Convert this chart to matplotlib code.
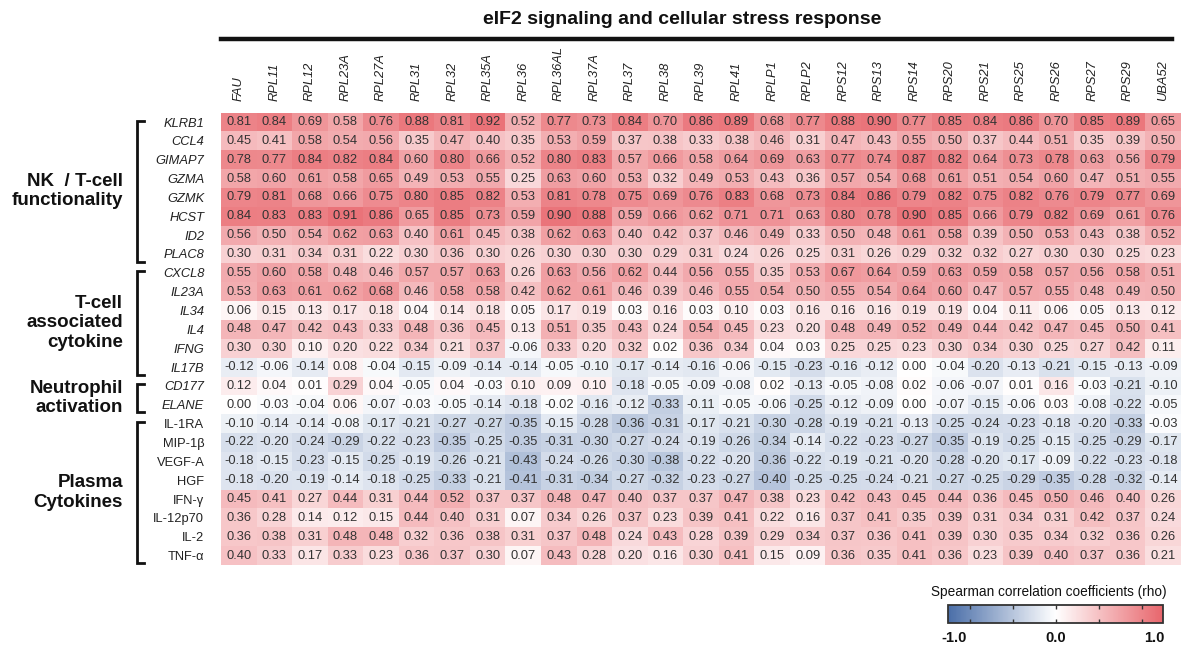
import numpy as np
import matplotlib
matplotlib.use("Agg")
import matplotlib.pyplot as plt
from matplotlib import font_manager
from matplotlib.colors import LinearSegmentedColormap
from matplotlib.transforms import blended_transform_factory
from matplotlib.lines import Line2D
import matplotlib.cm as cm
import matplotlib.colors as mcolors

# ---------------- data ----------------
columns = ["FAU", "RPL11", "RPL12", "RPL23A", "RPL27A", "RPL31", "RPL32", "RPL35A", "RPL36",
           "RPL36AL", "RPL37A", "RPL37", "RPL38", "RPL39", "RPL41", "RPLP1", "RPLP2", "RPS12",
           "RPS13", "RPS14", "RPS20", "RPS21", "RPS25", "RPS26", "RPS27", "RPS29", "UBA52"]

rows = ["KLRB1", "CCL4", "GIMAP7", "GZMA", "GZMK", "HCST", "ID2", "PLAC8",
        "CXCL8", "IL23A", "IL34", "IL4", "IFNG", "IL17B",
        "CD177", "ELANE",
        "IL-1RA", "MIP-1β", "VEGF-A", "HGF", "IFN-γ", "IL-12p70", "IL-2", "TNF-α"]
italic_rows = rows[:16]

groups = [("NK  / T-cell\nfunctionality", 0, 7),
          ("T-cell\nassociated\ncytokine", 8, 13),
          ("Neutrophil\nactivation", 14, 15),
          ("Plasma\nCytokines", 16, 23)]

KLRB1 = [0.81, 0.84, 0.69, 0.58, 0.76, 0.88, 0.81, 0.92, 0.52, 0.77, 0.73, 0.84, 0.70, 0.86, 0.89, 0.68, 0.77, 0.88, 0.90, 0.77, 0.85, 0.84, 0.86, 0.70, 0.85, 0.89, 0.65]
CCL4 = [0.45, 0.41, 0.58, 0.54, 0.56, 0.35, 0.47, 0.40, 0.35, 0.53, 0.59, 0.37, 0.38, 0.33, 0.38, 0.46, 0.31, 0.47, 0.43, 0.55, 0.50, 0.37, 0.44, 0.51, 0.35, 0.39, 0.50]
GIMAP7 = [0.78, 0.77, 0.84, 0.82, 0.84, 0.60, 0.80, 0.66, 0.52, 0.80, 0.83, 0.57, 0.66, 0.58, 0.64, 0.69, 0.63, 0.77, 0.74, 0.87, 0.82, 0.64, 0.73, 0.78, 0.63, 0.56, 0.79]
GZMA = [0.58, 0.60, 0.61, 0.58, 0.65, 0.49, 0.53, 0.55, 0.25, 0.63, 0.60, 0.53, 0.32, 0.49, 0.53, 0.43, 0.36, 0.57, 0.54, 0.68, 0.61, 0.51, 0.54, 0.60, 0.47, 0.51, 0.55]
GZMK = [0.79, 0.81, 0.68, 0.66, 0.75, 0.80, 0.85, 0.82, 0.53, 0.81, 0.78, 0.75, 0.69, 0.76, 0.83, 0.68, 0.73, 0.84, 0.86, 0.79, 0.82, 0.75, 0.82, 0.76, 0.79, 0.77, 0.69]
HCST = [0.84, 0.83, 0.83, 0.91, 0.86, 0.65, 0.85, 0.73, 0.59, 0.90, 0.88, 0.59, 0.66, 0.62, 0.71, 0.71, 0.63, 0.80, 0.78, 0.90, 0.85, 0.66, 0.79, 0.82, 0.69, 0.61, 0.76]
ID2 = [0.56, 0.50, 0.54, 0.62, 0.63, 0.40, 0.61, 0.45, 0.38, 0.62, 0.63, 0.40, 0.42, 0.37, 0.46, 0.49, 0.33, 0.50, 0.48, 0.61, 0.58, 0.39, 0.50, 0.53, 0.43, 0.38, 0.52]
PLAC8 = [0.30, 0.31, 0.34, 0.31, 0.22, 0.30, 0.36, 0.30, 0.26, 0.30, 0.30, 0.30, 0.29, 0.31, 0.24, 0.26, 0.25, 0.31, 0.26, 0.29, 0.32, 0.32, 0.27, 0.30, 0.30, 0.25, 0.23]
CXCL8 = [0.55, 0.60, 0.58, 0.48, 0.46, 0.57, 0.57, 0.63, 0.26, 0.63, 0.56, 0.62, 0.44, 0.56, 0.55, 0.35, 0.53, 0.67, 0.64, 0.59, 0.63, 0.59, 0.58, 0.57, 0.56, 0.58, 0.51]
IL23A = [0.53, 0.63, 0.61, 0.62, 0.68, 0.46, 0.58, 0.58, 0.42, 0.62, 0.61, 0.46, 0.39, 0.46, 0.55, 0.54, 0.50, 0.55, 0.54, 0.64, 0.60, 0.47, 0.57, 0.55, 0.48, 0.49, 0.50]
IL34 = [0.06, 0.15, 0.13, 0.17, 0.18, 0.04, 0.14, 0.18, 0.05, 0.17, 0.19, 0.03, 0.16, 0.03, 0.10, 0.03, 0.16, 0.16, 0.16, 0.19, 0.19, 0.04, 0.11, 0.06, 0.05, 0.13, 0.12]
IL4 = [0.48, 0.47, 0.42, 0.43, 0.33, 0.48, 0.36, 0.45, 0.13, 0.51, 0.35, 0.43, 0.24, 0.54, 0.45, 0.23, 0.20, 0.48, 0.49, 0.52, 0.49, 0.44, 0.42, 0.47, 0.45, 0.50, 0.41]
IFNG = [0.30, 0.30, 0.10, 0.20, 0.22, 0.34, 0.21, 0.37, -0.06, 0.33, 0.20, 0.32, 0.02, 0.36, 0.34, 0.04, 0.03, 0.25, 0.25, 0.23, 0.30, 0.34, 0.30, 0.25, 0.27, 0.42, 0.11]
IL17B = [-0.12, -0.06, -0.14, 0.08, -0.04, -0.15, -0.09, -0.14, -0.14, -0.05, -0.10, -0.17, -0.14, -0.16, -0.06, -0.15, -0.23, -0.16, -0.12, 0.00, -0.04, -0.20, -0.13, -0.21, -0.15, -0.13, -0.09]
CD177 = [0.12, 0.04, 0.01, 0.29, 0.04, -0.05, 0.04, -0.03, 0.10, 0.09, 0.10, -0.18, -0.05, -0.09, -0.08, 0.02, -0.13, -0.05, -0.08, 0.02, -0.06, -0.07, 0.01, 0.16, -0.03, -0.21, -0.10]
ELANE = [0.00, -0.03, -0.04, 0.06, -0.07, -0.03, -0.05, -0.14, -0.18, -0.02, -0.16, -0.12, -0.33, -0.11, -0.05, -0.06, -0.25, -0.12, -0.09, 0.00, -0.07, -0.15, -0.06, 0.03, -0.08, -0.22, -0.05]
IL1RA = [-0.10, -0.14, -0.14, -0.08, -0.17, -0.21, -0.27, -0.27, -0.35, -0.15, -0.28, -0.36, -0.31, -0.17, -0.21, -0.30, -0.28, -0.19, -0.21, -0.13, -0.25, -0.24, -0.23, -0.18, -0.20, -0.33, -0.03]
MIP1B = [-0.22, -0.20, -0.24, -0.29, -0.22, -0.23, -0.35, -0.25, -0.35, -0.31, -0.30, -0.27, -0.24, -0.19, -0.26, -0.34, -0.14, -0.22, -0.23, -0.27, -0.35, -0.19, -0.25, -0.15, -0.25, -0.29, -0.17]
VEGFA = [-0.18, -0.15, -0.23, -0.15, -0.25, -0.19, -0.26, -0.21, -0.43, -0.24, -0.26, -0.30, -0.38, -0.22, -0.20, -0.36, -0.22, -0.19, -0.21, -0.20, -0.28, -0.20, -0.17, -0.09, -0.22, -0.23, -0.18]
HGF = [-0.18, -0.20, -0.19, -0.14, -0.18, -0.25, -0.33, -0.21, -0.41, -0.31, -0.34, -0.27, -0.32, -0.23, -0.27, -0.40, -0.25, -0.25, -0.24, -0.21, -0.27, -0.25, -0.29, -0.35, -0.28, -0.32, -0.14]
IFNg = [0.45, 0.41, 0.27, 0.44, 0.31, 0.44, 0.52, 0.37, 0.37, 0.48, 0.47, 0.40, 0.37, 0.37, 0.47, 0.38, 0.23, 0.42, 0.43, 0.45, 0.44, 0.36, 0.45, 0.50, 0.46, 0.40, 0.26]
IL12p70 = [0.36, 0.28, 0.14, 0.12, 0.15, 0.44, 0.40, 0.31, 0.07, 0.34, 0.26, 0.37, 0.23, 0.39, 0.41, 0.22, 0.16, 0.37, 0.41, 0.35, 0.39, 0.31, 0.34, 0.31, 0.42, 0.37, 0.24]
IL2 = [0.36, 0.38, 0.31, 0.48, 0.48, 0.32, 0.36, 0.38, 0.31, 0.37, 0.48, 0.24, 0.43, 0.28, 0.39, 0.29, 0.34, 0.37, 0.36, 0.41, 0.39, 0.30, 0.35, 0.34, 0.32, 0.36, 0.26]
TNFa = [0.40, 0.33, 0.17, 0.33, 0.23, 0.36, 0.37, 0.30, 0.07, 0.43, 0.28, 0.20, 0.16, 0.30, 0.41, 0.15, 0.09, 0.36, 0.35, 0.41, 0.36, 0.23, 0.39, 0.40, 0.37, 0.36, 0.21]

values = np.array([KLRB1, CCL4, GIMAP7, GZMA, GZMK, HCST, ID2, PLAC8,
                   CXCL8, IL23A, IL34, IL4, IFNG, IL17B,
                   CD177, ELANE,
                   IL1RA, MIP1B, VEGFA, HGF, IFNg, IL12p70, IL2, TNFa])

title = "eIF2 signaling and cellular stress response"
cbar_label = "Spearman correlation coefficients (rho)"

# ---------------- style ----------------
names = {f.name for f in font_manager.fontManager.ttflist}
base_font = "Liberation Sans" if "Liberation Sans" in names else "DejaVu Sans"
title_font = "Liberation Sans Narrow" if "Liberation Sans Narrow" in names else base_font
title_size = 15 if title_font != base_font else 14
plt.rcParams["font.family"] = [base_font, "DejaVu Sans"]

cmap = LinearSegmentedColormap.from_list("bwr_soft", ["#4a6ea8", "#ffffff", "#e8666c"])
norm = mcolors.Normalize(vmin=-1, vmax=1)

W, H = 1188, 650
fig = plt.figure(figsize=(W / 100, H / 100), dpi=100)
fig.patch.set_facecolor("white")

def fx(px):
    return px / W

def fy(py):
    return 1 - py / H

# heatmap axes
left_px, right_px, top_px, bot_px = 221, 1181, 112.6, 565
ax = fig.add_axes([fx(left_px), fy(bot_px), fx(right_px - left_px), (bot_px - top_px) / H])

nr, nc = values.shape
ax.pcolormesh(np.arange(nc + 1) - 0.5, np.arange(nr + 1) - 0.5, values,
              cmap=cmap, norm=norm, shading="flat")
ax.set_xlim(-0.5, nc - 0.5)
ax.set_ylim(nr - 0.5, -0.5)
for s in ax.spines.values():
    s.set_visible(False)

for i in range(nr):
    for j in range(nc):
        ax.text(j, i, f"{values[i, j]:.2f}", ha="center", va="center",
                fontsize=9.3, color="#333333")

ax.xaxis.tick_top()
ax.set_xticks(np.arange(nc))
ax.set_xticklabels(columns, rotation=90, fontstyle="italic", fontsize=9.3, color="#222222")
ax.tick_params(axis="x", length=0, pad=8)
ax.set_yticks(np.arange(nr))
ax.set_yticklabels(rows, fontsize=9.3, color="#222222")
for lbl in ax.get_yticklabels():
    if lbl.get_text() in italic_rows:
        lbl.set_fontstyle("italic")
ax.tick_params(axis="y", length=0, pad=12)

# group brackets and labels
tr = blended_transform_factory(fig.transFigure, ax.transData)
bx = fx(137)
serif = fx(7)
for name, r0, r1 in groups:
    y0, y1 = r0 - 0.08, r1 + 0.4
    ax.add_line(Line2D([bx + serif, bx, bx, bx + serif], [y0, y0, y1, y1],
                       transform=tr, color="#111111", lw=2.0, clip_on=False,
                       solid_joinstyle="miter"))
    ax.text(fx(123), (r0 + r1) / 2 + 0.15, name, transform=tr, ha="right", va="center",
            fontsize=13.5, fontweight="bold", color="#111111", linespacing=1.18)

# header line and title
fig.add_artist(Line2D([fx(221), fx(1172)], [fy(39), fy(39)], color="#111111", lw=3.2))
fig.text(fx(682), fy(20), title, ha="center", va="center", fontsize=title_size,
         fontweight="bold", family=[title_font, base_font], color="#111111")

# colorbar
cax = fig.add_axes([fx(948), fy(623), fx(1163 - 948), 18 / H])
cb = fig.colorbar(cm.ScalarMappable(norm=norm, cmap=cmap), cax=cax, orientation="horizontal")
cb.outline.set_linewidth(1.3)
cb.outline.set_edgecolor("#333333")
cax.set_xticks([-0.8, -0.4, 0, 0.4, 0.8])
cax.tick_params(axis="x", direction="in", length=3, width=1, top=True, bottom=True,
                labelbottom=False, color="#333333")
for val, frac in [("-1.0", 0.03), ("0.0", 0.5), ("1.0", 0.96)]:
    cax.text(frac, -0.85, val, transform=cax.transAxes, ha="center", va="center",
             fontsize=10.5, fontweight="bold", color="#111111")
fig.text(fx(1049), fy(592), cbar_label, ha="center", va="center", fontsize=9.8, color="#111111")

fig.savefig("out.png", dpi=100, facecolor="white")
